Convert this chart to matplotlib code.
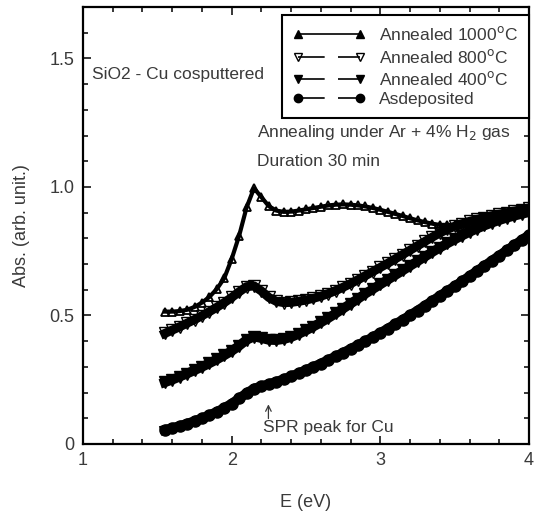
import matplotlib
matplotlib.use("Agg")
import matplotlib.pyplot as plt
from matplotlib.lines import Line2D
from matplotlib.ticker import MultipleLocator, FixedFormatter, FixedLocator

plt.rcParams['font.family'] = ['Liberation Sans', 'DejaVu Sans']

# photon energy (eV)
energy = [1.55, 1.60, 1.65, 1.70, 1.75, 1.80, 1.85, 1.90, 1.95, 2.00,
          2.05, 2.10, 2.15, 2.20, 2.25, 2.30, 2.35, 2.40, 2.45, 2.50,
          2.55, 2.60, 2.65, 2.70, 2.75, 2.80, 2.85, 2.90, 2.95, 3.00,
          3.05, 3.10, 3.15, 3.20, 3.25, 3.30, 3.35, 3.40, 3.45, 3.50,
          3.55, 3.60, 3.65, 3.70, 3.75, 3.80, 3.85, 3.90, 3.95, 4.00]

# absorbance
abs_asdep = [0.055, 0.062, 0.070, 0.079, 0.089, 0.100, 0.112, 0.125, 0.140, 0.157,
             0.177, 0.198, 0.215, 0.225, 0.233, 0.242, 0.252, 0.263, 0.275, 0.288,
             0.300, 0.313, 0.327, 0.341, 0.355, 0.370, 0.385, 0.400, 0.416, 0.432,
             0.449, 0.466, 0.483, 0.501, 0.519, 0.538, 0.557, 0.576, 0.595, 0.614,
             0.633, 0.653, 0.673, 0.693, 0.713, 0.733, 0.753, 0.773, 0.793, 0.813]

abs_400 = [0.240, 0.250, 0.262, 0.274, 0.287, 0.300, 0.314, 0.329, 0.345, 0.362,
           0.382, 0.405, 0.418, 0.412, 0.405, 0.404, 0.408, 0.416, 0.428, 0.442,
           0.457, 0.473, 0.490, 0.508, 0.527, 0.546, 0.565, 0.585, 0.603, 0.621,
           0.639, 0.657, 0.675, 0.693, 0.711, 0.729, 0.747, 0.764, 0.780, 0.796,
           0.811, 0.825, 0.838, 0.850, 0.861, 0.871, 0.880, 0.888, 0.895, 0.902]

abs_800 = [0.430, 0.443, 0.456, 0.470, 0.484, 0.499, 0.515, 0.532, 0.550, 0.570,
           0.592, 0.612, 0.615, 0.595, 0.570, 0.555, 0.550, 0.551, 0.555, 0.560,
           0.567, 0.575, 0.585, 0.597, 0.610, 0.624, 0.639, 0.655, 0.671, 0.687,
           0.703, 0.720, 0.737, 0.754, 0.771, 0.788, 0.805, 0.821, 0.835, 0.847,
           0.857, 0.866, 0.874, 0.881, 0.888, 0.894, 0.900, 0.906, 0.912, 0.918]

abs_1000 = [0.515, 0.515, 0.517, 0.522, 0.533, 0.550, 0.572, 0.603, 0.645, 0.720,
            0.810, 0.920, 0.995, 0.960, 0.925, 0.908, 0.903, 0.904, 0.908, 0.913,
            0.918, 0.923, 0.928, 0.931, 0.932, 0.931, 0.928, 0.924, 0.918, 0.911,
            0.903, 0.895, 0.887, 0.878, 0.870, 0.863, 0.857, 0.852, 0.850, 0.850,
            0.852, 0.856, 0.861, 0.867, 0.874, 0.881, 0.888, 0.895, 0.902, 0.909]

labels = ['Annealed 1000$^{\\rm o}$C', 'Annealed 800$^{\\rm o}$C',
          'Annealed 400$^{\\rm o}$C', 'Asdeposited']

txt = '#3a3a3a'

fig = plt.figure(figsize=(5.36, 5.15), dpi=100)
ax = fig.add_axes([0.1549, 0.1379, 0.8321, 0.8485])

# curves: dense markers make thick bands
ax.plot(energy, abs_asdep, color='black', lw=7, marker='o', ms=8, mfc='black', mec='black')
ax.plot(energy, abs_400, color='black', lw=7, marker='v', ms=8.5, mfc='black', mec='black')
ax.plot(energy, abs_800, color='black', lw=6.5, marker='v', ms=8.5, mfc='none', mec='black')
ax.plot(energy, abs_1000, color='black', lw=3, marker='^', ms=5.5, mfc='none', mec='black', mew=1.3)

ax.set_xlim(1, 4)
ax.set_ylim(0, 1.7)
ax.xaxis.set_major_locator(MultipleLocator(1))
ax.xaxis.set_minor_locator(MultipleLocator(0.2))
ax.yaxis.set_major_locator(FixedLocator([0, 0.5, 1.0, 1.5]))
ax.yaxis.set_major_formatter(FixedFormatter(['0', '0.5', '1.0', '1.5']))
ax.yaxis.set_minor_locator(MultipleLocator(0.1))
ax.tick_params(which='both', direction='in', top=True, right=True, width=1.1, color='black')
ax.tick_params(which='major', length=6, labelsize=13, labelcolor=txt, pad=6)
ax.tick_params(which='minor', length=3.5)
for s in ax.spines.values():
    s.set_linewidth(1.6)

ax.set_xlabel('E (eV)', fontsize=13, color=txt, labelpad=18)
ax.set_ylabel('Abs. (arb. unit.)', fontsize=13, color=txt, labelpad=14)

# legend (marker - line - marker style)
handles = [
    Line2D([], [], color='black', lw=1.2, marker='^', ms=6, mfc='black'),
    Line2D([], [], color='black', lw=1.2, marker='v', ms=6, mfc='none', dashes=[16, 8]),
    Line2D([], [], color='black', lw=1.2, marker='v', ms=6, mfc='black', dashes=[16, 8]),
    Line2D([], [], color='black', lw=1.2, marker='o', ms=6, mfc='black', dashes=[16, 8]),
]
leg = ax.legend(handles, labels, loc='upper right', bbox_to_anchor=(0.999, 0.982),
                borderaxespad=0, numpoints=2, handlelength=4.2, handletextpad=0.8,
                fontsize=12.5, labelspacing=0.25, borderpad=0.6, fancybox=False,
                framealpha=1, edgecolor='black')
leg.get_frame().set_linewidth(1.5)
for t in leg.get_texts():
    t.set_color(txt)

ax.text(1.06, 1.437, 'SiO2 - Cu cosputtered', fontsize=12.5, color=txt, va='center')
ax.text(2.167, 1.211, 'Annealing under Ar + 4% H$_2$ gas', fontsize=12.5, color=txt, va='center')
ax.text(2.167, 1.099, 'Duration 30 min', fontsize=12.5, color=txt, va='center')
ax.text(2.213, 0.066, 'SPR peak for Cu', fontsize=12.5, color=txt, va='center')
ax.annotate('', xy=(2.247, 0.165), xytext=(2.247, 0.088),
            arrowprops=dict(arrowstyle='->', color=txt, lw=0.9))

fig.savefig('out.png', dpi=100)
